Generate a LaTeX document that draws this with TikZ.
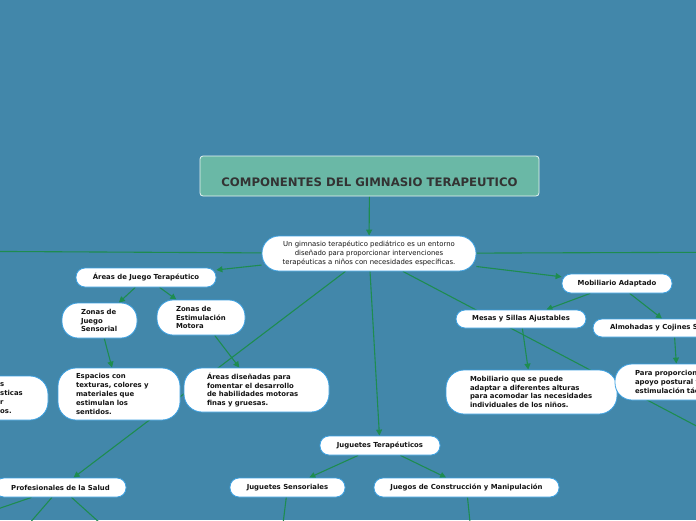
\documentclass[tikz,border=0pt]{standalone}
\usepackage{fontspec}
\usetikzlibrary{arrows.meta}
\newfontfamily\dv{DejaVu Sans}
\definecolor{bgc}{RGB}{66,135,170}
\definecolor{titlefill}{RGB}{106,184,166}
\definecolor{nodeborder}{RGB}{60,160,225}
\definecolor{linec}{RGB}{30,140,80}
\definecolor{txt}{RGB}{20,20,20}
\pgfdeclarelayer{bglayer}
\pgfdeclarelayer{linelayer}
\pgfsetlayers{bglayer,linelayer,main}
\newcommand\lblfont{\dv\bfseries\fontsize{6.9}{8.8}\selectfont}
\newcommand\ctrfont{\dv\fontsize{6.9}{9}\selectfont}
\tikzset{
  box/.style={draw=nodeborder, fill=white, line width=0.8pt, rounded corners=9pt,
    font=\lblfont, text=txt, inner sep=0pt, align=center},
  bigbox/.style={box, rounded corners=16pt, align=left, inner ysep=0pt},
  conn/.style={draw=linec, line width=1.1pt},
  arr/.style={conn, -{Triangle[length=6pt,width=6pt]}}
}
\begin{document}
\begin{tikzpicture}[x=1pt,y=-1pt]
\useasboundingbox (0,0) rectangle (696,520);
\begin{pgfonlayer}{bglayer}
\fill[bgc] (0,0) rectangle (696,520);
\end{pgfonlayer}
\clip (0,0) rectangle (696,520);
% nodes
\node[draw=white!85!titlefill, fill=titlefill, line width=0.8pt, rounded corners=3pt,
  minimum width=339pt, minimum height=40pt, inner sep=0pt,
  font=\dv\bfseries\fontsize{11.7}{13}\selectfont, text={rgb,255:red,51;green,51;blue,51}]
  (title) at (369.5,176) {\raisebox{-10pt}[0pt][0pt]{COMPONENTES DEL GIMNASIO TERAPEUTICO}};
\node[box, rounded corners=17pt, font=\ctrfont, minimum width=214pt, minimum height=35pt]
  (ctr) at (369,253.5) {Un gimnasio terapéutico pediátrico es un entorno\\diseñado para proporcionar intervenciones\\terapéuticas a niños con necesidades específicas.};
\coordinate (offL) at (-80,251);
\coordinate (offR) at (780,252);
\coordinate (offBR) at (780,470);
\node[box, minimum width=140pt, minimum height=19pt] (areas) at (146,277.5) {Áreas de Juego Terapéutico};
\node[bigbox, inner xsep=19pt, text width=37pt, minimum height=35pt] (zjs) at (99.5,320.5) {Zonas de\\Juego\\Sensorial};
\node[bigbox, inner xsep=19pt, text width=50pt, minimum height=35pt] (zem) at (201,317.5) {Zonas de\\Estimulación\\Motora};
\node[bigbox, rounded corners=18pt, inner xsep=18pt, text width=86pt, minimum height=52pt] (esp) at (119,394) {Espacios con\\texturas, colores y\\materiales que\\estimulan los\\sentidos.};
\node[bigbox, rounded corners=18pt, inner xsep=23pt, text width=99pt, minimum height=44pt] (ad) at (256.5,390) {Áreas diseñadas para\\fomentar el desarrollo\\de habilidades motoras\\finas y gruesas.};
\node[bigbox, rounded corners=18pt, minimum width=108pt, minimum height=44pt] (lp) at (-6,398) {};
\node[font=\lblfont, text=txt, align=left, anchor=west, inner sep=0pt] (lpt) at (0,398) {s\\sticas\\r\\os.};
\node[box, minimum width=131pt, minimum height=19pt] (prof) at (60.5,487.5) {Profesionales de la Salud};
\node[box, minimum width=120pt, minimum height=19pt] (jt) at (380,445.5) {Juguetes Terapéuticos};
\node[box, minimum width=115pt, minimum height=19pt] (js) at (287.5,487.5) {Juguetes Sensoriales};
\node[box, minimum width=185pt, minimum height=19pt] (jc) at (466.5,487.5) {Juegos de Construcción y Manipulación};
\node[box, minimum width=110pt, minimum height=19pt] (ma) at (617,283.5) {Mobiliario Adaptado};
\node[box, minimum width=130pt, minimum height=18pt] (mesas) at (521,319) {Mesas y Sillas Ajustables};
\node[bigbox, rounded corners=18pt, inner xsep=24pt, text width=123pt, minimum height=44pt] (mob) at (531.5,392) {Mobiliario que se puede\\adaptar a diferentes alturas\\para acomodar las necesidades\\individuales de los niños.};
\node[box, minimum width=162pt, minimum height=18pt] (alm) at (674,328) {Almohadas y Cojines Sensoriales};
\node[bigbox, rounded corners=17pt, inner xsep=20pt, text width=85pt, minimum height=36pt] (pp) at (677.5,382) {Para proporcionar\\apoyo postural y\\estimulación táctil.};
\coordinate (p1) at (-20,515);
\coordinate (p2) at (22,532);
\coordinate (p3) at (110,532);
\coordinate (js1) at (282,532);
\coordinate (jc1) at (471,532);
% connectors (behind the nodes)
\begin{pgfonlayer}{linelayer}
\clip (0,0) rectangle (696,520);
\draw[arr] (title) -- (ctr);
\draw[conn] (ctr) -- (offL);
\draw[conn] (ctr) -- (offR);
\draw[conn] (ctr) -- (offBR);
\draw[arr] (ctr) -- (areas);
\draw[arr] (ctr) -- (prof);
\draw[arr] (ctr) -- (jt);
\draw[arr] (ctr) -- (ma);
\draw[arr] (areas) -- (zjs);
\draw[arr] (areas) -- (zem);
\draw[arr] (zjs) -- (esp);
\draw[arr] (zem) -- (ad);
\draw[conn] (prof) -- (p1);
\draw[conn] (prof) -- (p2);
\draw[conn] (prof) -- (p3);
\draw[arr] (jt) -- (js);
\draw[arr] (jt) -- (jc);
\draw[conn] (js) -- (js1);
\draw[conn] (jc) -- (jc1);
\draw[arr] (ma) -- (mesas);
\draw[arr] (ma) -- (alm);
\draw[arr] (mesas) -- (mob);
\draw[arr] (alm) -- (pp);
\end{pgfonlayer}
\end{tikzpicture}
\end{document}
